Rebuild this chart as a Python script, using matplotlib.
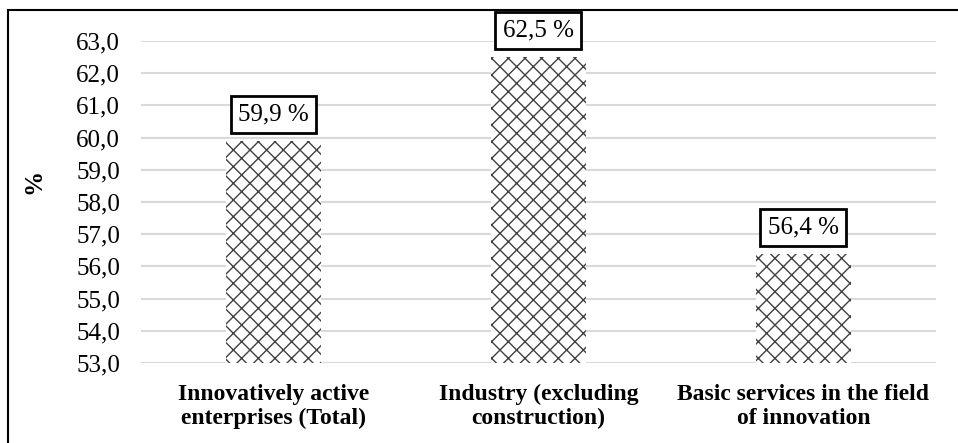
import matplotlib
matplotlib.use("Agg")
import matplotlib.pyplot as plt
from matplotlib.patches import Rectangle

# data
categories = [
    "Innovatively active\nenterprises (Total)",
    "Industry (excluding\nconstruction)",
    "Basic services in the field\nof innovation",
]
values = [59.9, 62.5, 56.4]
y_ticks = [53, 54, 55, 56, 57, 58, 59, 60, 61, 62, 63]

plt.rcParams["font.family"] = ["Liberation Serif", "DejaVu Serif"]
plt.rcParams["hatch.linewidth"] = 1.0

fig = plt.figure(figsize=(9.58, 4.43), dpi=100)
ax = fig.add_axes([0.1472, 0.1806, 0.977 - 0.1472, 0.9074 - 0.1806])

x = range(len(categories))
ax.bar(x, values, width=0.355, color="white", edgecolor="#404040",
       linewidth=0, hatch="xx", zorder=2)

ax.set_ylim(53, 63)
ax.set_xlim(-0.5, len(categories) - 0.5)
ax.set_yticks(y_ticks)
ax.set_yticklabels([f"{t:.1f}".replace(".", ",") for t in y_ticks], fontsize=18)
ax.set_xticks(list(x))
ax.set_xticklabels(categories, fontsize=17, fontweight="bold", linespacing=1.2)
ax.tick_params(length=0)
ax.tick_params(axis="y", pad=15)
ax.tick_params(axis="x", pad=15)

ax.yaxis.grid(True, color="#d9d9d9", linewidth=1.5)
ax.set_axisbelow(True)
for s in ax.spines.values():
    s.set_visible(False)

ax.set_ylabel("%", fontsize=18, fontweight="bold")
ax.yaxis.set_label_coords(-0.12, 0.565)

# value labels in boxes
for xi, v in zip(x, values):
    ax.annotate(f"{v:.1f}".replace(".", ",") + " %", (xi, v),
                xytext=(0, 19), textcoords="offset points",
                ha="center", va="center", fontsize=18, clip_on=False,
                bbox=dict(boxstyle="square,pad=0.3", fc="white",
                          ec="black", lw=2), zorder=5)

# outer frame
fig.add_artist(Rectangle((8 / 958, -0.05), 1.2, 1 - 10 / 443 + 0.05,
                         transform=fig.transFigure, fill=False,
                         ec="black", lw=1.5))

fig.savefig("out.png", dpi=100)
